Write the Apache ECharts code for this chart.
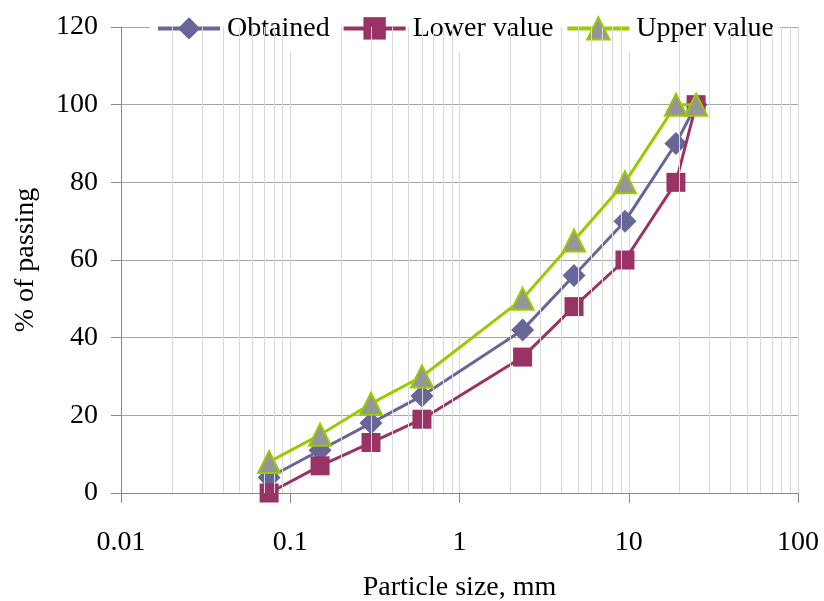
<!DOCTYPE html>
<html>
<head>
    <title>Particle size distribution</title>
    <style>
        body { margin: 0; background: #fff; }
        #chart { width: 824px; height: 601px; }
    </style>
    <script src="https://cdn.jsdelivr.net/npm/echarts@6/dist/echarts.min.js"></script>
</head>
<body>
    <div id="chart"></div>
    <script>
        // sieve sizes (mm) and % passing
        var sizes = [0.075, 0.15, 0.3, 0.6, 2.36, 4.75, 9.5, 19, 25];
        var obtained = [4, 11, 18, 25, 42, 56, 70, 90, 100];
        var lowerValue = [0, 7, 13, 19, 35, 48, 60, 80, 100];
        var upperValue = [8, 15, 23, 30, 50, 65, 80, 100, 100];
        var xTickLabels = ['0.01', '0.1', '1', '10', '100'];
        var decades = [0.01, 0.1, 1, 10];

        // minor vertical grid lines 2..9 inside each decade
        var minorLines = [];
        decades.forEach(function (d) {
            for (var k = 2; k <= 9; k++) {
                minorLines.push({ xAxis: +(d * k).toPrecision(3) });
            }
        });

        function pairs(vals) {
            return sizes.map(function (s, i) { return [s, vals[i]]; });
        }

        var font = 'Liberation Serif';
        var chart = echarts.init(document.getElementById('chart'));

        var option = {
            animation: false,
            textStyle: { fontFamily: font },
            grid: { left: 121, right: 26, top: 27, bottom: 108, containLabel: false, outerBoundsMode: 'none' },
            legend: {
                data: ['Obtained', 'Lower value', 'Upper value'],
                left: 150,
                top: 5,
                padding: [2, 6],
                itemWidth: 62,
                itemHeight: 28,
                itemGap: 12,
                backgroundColor: '#fff',
                lineStyle: { width: 4 },
                textStyle: { fontFamily: font, fontSize: 28, color: '#000', padding: [0, 0, 0, 2] }
            },
            xAxis: {
                type: 'log',
                logBase: 10,
                min: 0.01,
                max: 100,
                name: 'Particle size, mm',
                nameLocation: 'middle',
                nameGap: 73,
                nameMoveOverlap: false,
                nameTextStyle: { fontFamily: font, fontSize: 28, color: '#000' },
                axisLine: { lineStyle: { color: '#888', width: 1 } },
                axisTick: { show: true, inside: false, length: 10, lineStyle: { color: '#888' } },
                axisLabel: {
                    margin: 28,
                    fontFamily: font,
                    fontSize: 28,
                    color: '#000',
                    formatter: function (v) {
                        var i = Math.round(Math.log10(v) + 2);
                        return xTickLabels[i] !== undefined ? xTickLabels[i] : '';
                    }
                },
                splitLine: { show: true, lineStyle: { color: '#d9d9d9', width: 1 } }
            },
            yAxis: {
                type: 'value',
                min: 0,
                max: 120,
                interval: 20,
                name: '% of passing',
                nameLocation: 'middle',
                nameGap: 74,
                nameMoveOverlap: false,
                nameTextStyle: { fontFamily: font, fontSize: 28, color: '#000' },
                axisLine: { show: true, lineStyle: { color: '#888', width: 1 } },
                axisTick: { show: true, inside: false, length: 10, lineStyle: { color: '#888' } },
                axisLabel: { margin: 23, fontFamily: font, fontSize: 28, color: '#000' },
                splitLine: { show: true, lineStyle: { color: '#a6a6a6', width: 1 } }
            },
            series: [
                {
                    name: 'minor',
                    type: 'line',
                    data: [],
                    z: 1,
                    silent: true,
                    markLine: {
                        silent: true,
                        symbol: ['none', 'none'],
                        label: { show: false },
                        lineStyle: { color: '#d9d9d9', type: 'solid', width: 1 },
                        emphasis: { disabled: true },
                        data: minorLines
                    }
                },
                {
                    name: 'Obtained',
                    type: 'line',
                    z: 3,
                    data: pairs(obtained),
                    symbol: 'diamond',
                    symbolSize: 23,
                    lineStyle: { color: '#666699', width: 3 },
                    itemStyle: { color: '#666699' }
                },
                {
                    name: 'Lower value',
                    type: 'line',
                    z: 4,
                    data: pairs(lowerValue),
                    symbol: 'rect',
                    symbolSize: 19,
                    lineStyle: { color: '#993366', width: 3 },
                    itemStyle: { color: '#993366' }
                },
                {
                    name: 'Upper value',
                    type: 'line',
                    z: 5,
                    data: pairs(upperValue),
                    symbol: 'triangle',
                    symbolSize: 22,
                    lineStyle: { color: '#99cc00', width: 3 },
                    itemStyle: { color: '#969696', borderColor: '#99cc00', borderWidth: 2 }
                }
            ]
        };

        chart.setOption(option);
    </script>
</body>
</html>
